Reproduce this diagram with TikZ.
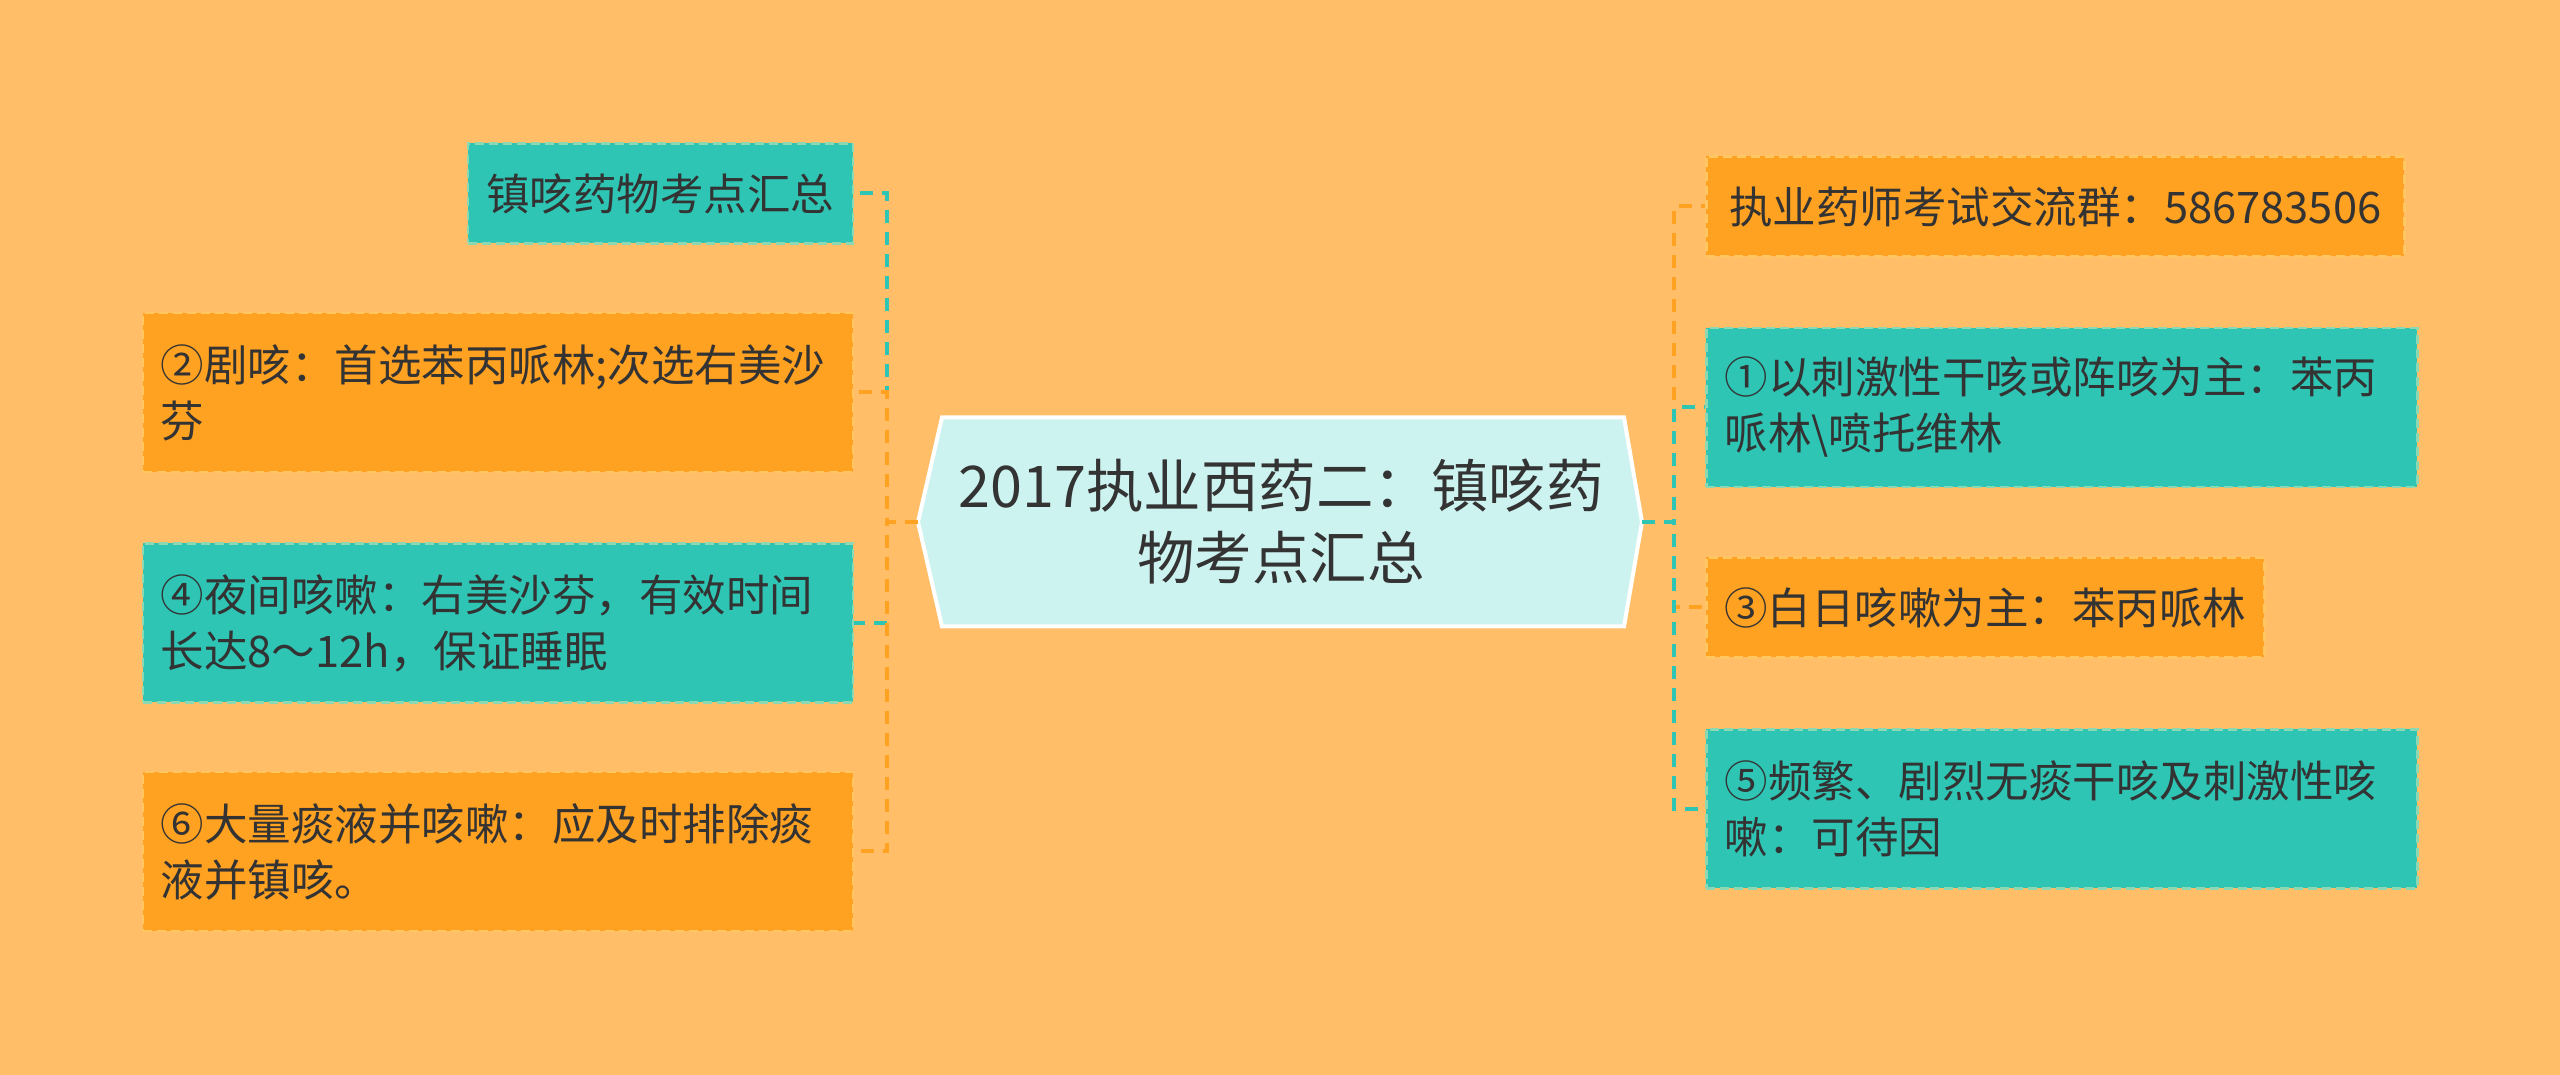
\documentclass[tikz,border=0pt]{standalone}
\usepackage{fontspec}
\setmainfont{Noto Sans CJK SC}
\usetikzlibrary{positioning, calc}
\definecolor{bgorange}{RGB}{255, 190, 103}
\definecolor{boxorange}{RGB}{255, 161, 33}
\definecolor{edgeorange}{RGB}{255, 198, 98}
\definecolor{boxteal}{RGB}{46, 197, 181}
\definecolor{edgeteal}{RGB}{140, 216, 178}
\definecolor{hubfill}{RGB}{205, 243, 240}
\definecolor{inktext}{RGB}{51, 51, 51}

\begin{document}
\begin{tikzpicture}[x=1pt, y=1pt,
  leaf/.style={minimum height=100pt, inner sep=0pt, font=\fontsize{43.5}{56}\selectfont, text=inktext, line width=2.5pt, dash pattern=on 9pt off 5pt},
  tealleaf/.style={leaf, fill=boxteal, draw=edgeteal},
  orangeleaf/.style={leaf, fill=boxorange, draw=edgeorange},
  twoline/.style={minimum height=159pt, minimum width=710pt, text width=674pt, align=left},
  tealwire/.style={draw=boxteal, line width=4pt, dash pattern=on 13pt off 9pt},
  orangewire/.style={draw=boxorange, line width=4pt, dash pattern=on 13pt off 9pt}
]
  \fill[bgorange] (0,0) rectangle (2560,1075);
  \useasboundingbox (0,0) rectangle (2560,1075);

  % Central topic
  \filldraw[fill=hubfill, draw=white, line width=4pt] (918,553) coordinate (hubL) -- (942,657.5) -- (1624,657.5)
    -- (1642,553) coordinate (hubR) -- (1624,448.5) -- (942,448.5) -- cycle;
  \node[font=\fontsize{57.5}{72}\selectfont, text=inktext, align=center] (hub) at (1281,553) {2017执业西药二：镇咳药\\物考点汇总};

  % Left branches
  \node[tealleaf, minimum width=385pt, anchor=east] (l1) at (854,881.5) {镇咳药物考点汇总};
  \node[orangeleaf, twoline, anchor=east] (l2) at (854,682.5) {②剧咳：首选苯丙哌林;次选右美沙\\芬};
  \node[tealleaf, twoline, anchor=east] (l3) at (854,452) {④夜间咳嗽：右美沙芬，有效时间\\长达8～12h，保证睡眠};
  \node[orangeleaf, twoline, anchor=east] (l4) at (854,223.5) {⑥大量痰液并咳嗽：应及时排除痰\\液并镇咳。};

  % Right branches
  \node[orangeleaf, minimum width=698pt, anchor=west] (r1) at (1705,868.5) {执业药师考试交流群：586783506};
  \node[tealleaf, twoline, minimum width=711pt, anchor=west] (r2) at (1705,667.5) {①以刺激性干咳或阵咳为主：苯丙\\哌林\textbackslash 喷托维林};
  \node[orangeleaf, minimum width=558pt, anchor=west] (r3) at (1705,467.5) {③白日咳嗽为主：苯丙哌林};
  \node[tealleaf, twoline, minimum width=711pt, anchor=west] (r4) at (1705,266) {⑤频繁、剧烈无痰干咳及刺激性咳\\嗽：可待因};

  % Connectors
  \draw[tealwire] (hubL) -- ++(-31,0) |- (l1.east);
  \draw[orangewire] (hubL) -- ++(-31,0) |- (l2.east);
  \draw[tealwire] (hubL) -- ++(-31,0) |- (l3.east);
  \draw[orangewire] (hubL) -- ++(-31,0) |- (l4.east);
  \draw[orangewire] (hubR) -- ++(32,0) |- (r1.west);
  \draw[tealwire] (hubR) -- ++(32,0) |- (r2.west);
  \draw[orangewire] (hubR) -- ++(32,0) |- (r3.west);
  \draw[tealwire] (hubR) -- ++(32,0) |- (r4.west);
\end{tikzpicture}
\end{document}
